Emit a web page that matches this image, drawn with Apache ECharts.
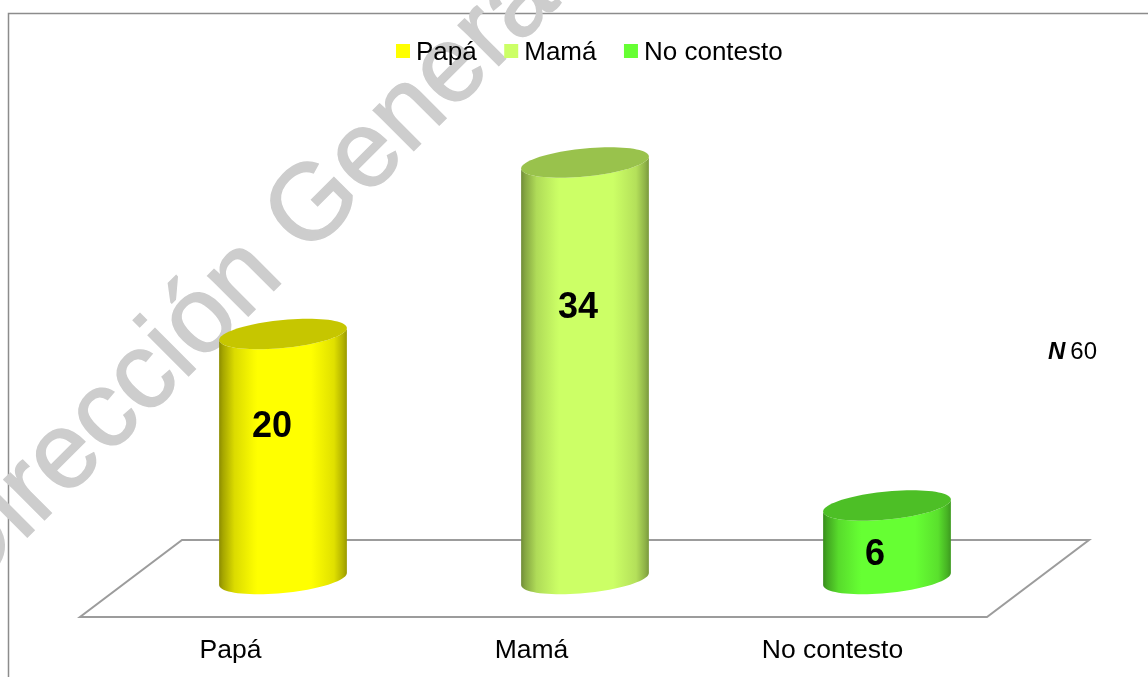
<!DOCTYPE html>
<html><head><meta charset="utf-8">
<style>html,body{margin:0;padding:0;background:#fff}#c{width:1148px;height:677px}</style>
<script src="https://cdn.jsdelivr.net/npm/echarts@6/dist/echarts.min.js"></script>
</head><body><div id="c"></div>
<script>
const categories = ['Papá', 'Mamá', 'No contesto'];
const values = [20, 34, 6];
const sampleTotal = 60;
const baseColors = ['#ffff00', '#ccff66', '#66ff33'];
const capColors = ['#c6c600', '#99c24c', '#4dbf26'];
const shadeStops = [[0, .55], [.03, .65], [.12, .86], [.27, .98], [.3, 1], [.72, 1], [.9, .88], [.97, .7], [1, .6]];
const labelNudges = [[-11, 93], [-7, 146], [-12, 50]];
const watermark = 'Dirección General';

const FONT = '"Liberation Sans", Arial, sans-serif';
const chart = echarts.init(document.getElementById('c'), null, {renderer: 'canvas'});

function shade(hex, f) {
  const n = parseInt(hex.slice(1), 16);
  return 'rgb(' + [(n >> 16) & 255, (n >> 8) & 255, n & 255].map(v => Math.round(v * f)).join(',') + ')';
}

function ellipsePts(cx, cy, a, b, k, from, to, n) {
  const pts = [];
  for (let i = 0; i <= n; i++) {
    const t = from + (to - from) * i / n;
    pts.push([cx + a * Math.cos(t), cy + b * Math.sin(t) - k * Math.cos(t)]);
  }
  return pts;
}

function cylinder(idx) {
  return function (params, api) {
    const base = api.coord([api.value(0), 0]);
    const top = api.coord([api.value(0), api.value(1)]);
    const a = api.size([1, 0])[0] * 0.2115;
    const b = 14, k = 6;
    const body = ellipsePts(top[0], top[1], a, b, k, Math.PI, 0, 40)
      .concat(ellipsePts(base[0], base[1], a, b, k, 0, Math.PI, 40));
    const cap = ellipsePts(top[0], top[1], a, b, k, 0, Math.PI * 2, 80);
    const grad = new echarts.graphic.LinearGradient(0, 0, 1, 0,
      shadeStops.map(s => ({offset: s[0], color: shade(baseColors[idx], s[1])})));
    return {type: 'group', children: [
      {type: 'polygon', shape: {points: body}, style: {fill: grad}},
      {type: 'polygon', shape: {points: cap}, style: {fill: capColors[idx], blend: 'multiply'}},
      {type: 'text', style: {
        text: String(api.value(1)), x: top[0] + labelNudges[idx][0], y: top[1] + labelNudges[idx][1],
        fill: '#000', font: 'bold 36px ' + FONT, align: 'center', verticalAlign: 'middle'
      }}
    ]};
  };
}

function floor(params) {
  const r = params.coordSys;
  const L = r.x, R = r.x + r.width + 4, Y = r.y + r.height;
  const dx = 102, dy = 77;
  return {type: 'polygon', shape: {points: [[L, Y], [R, Y], [R + dx, Y - dy], [L + dx, Y - dy]]},
    style: {fill: 'rgba(255,255,255,0)', stroke: '#9c9c9c', lineWidth: 2}};
}

chart.setOption({
  animation: false,
  backgroundColor: '#ffffff',
  grid: [
    {left: 132, width: 906, top: 89, height: 490},
    {left: 80, width: 903, top: 89, height: 528}
  ],
  xAxis: [
    {type: 'category', gridIndex: 0, data: categories, show: false},
    {type: 'category', gridIndex: 1, data: categories, axisLine: {show: false}, axisTick: {show: false},
     axisLabel: {fontFamily: FONT, fontSize: 26.5, color: '#000', margin: 20}}
  ],
  yAxis: [
    {type: 'value', gridIndex: 0, min: 0, max: 40, show: false},
    {type: 'value', gridIndex: 1, min: 0, max: 40, show: false}
  ],
  legend: {
    left: 391, top: 35, itemWidth: 14, itemHeight: 14, itemGap: 27.5, icon: 'rect',
    data: categories, selectedMode: false,
    formatter: name => '{t|' + name + '}',
    textStyle: {fontFamily: FONT, fontSize: 26, color: '#000', rich: {
      t: {fontFamily: FONT, fontSize: 26, color: '#000', padding: [4, 0, 0, 1]}
    }}
  },
  title: {
    left: 1048, top: 340, padding: 0,
    text: '{n|N} {v|' + sampleTotal + '}',
    textStyle: {rich: {
      n: {fontFamily: FONT, fontSize: 24, fontWeight: 'bold', fontStyle: 'italic', color: '#000'},
      v: {fontFamily: FONT, fontSize: 24, fontWeight: 'normal', color: '#000'}
    }}
  },
  graphic: [
    {type: 'polyline', z: 0, shape: {points: [[8.5, 677], [8.5, 13.5], [1148, 13.5]]},
     style: {stroke: '#8c8c8c', lineWidth: 1.5, fill: 'none'}},
    {type: 'text', z: 0, rotation: Math.PI / 4, x: -54, y: 576,
     style: {text: watermark, font: '108px ' + FONT, fill: '#cdcdcd', stroke: '#cdcdcd', lineWidth: 1.5, verticalAlign: 'middle'}}
  ],
  series: [
    {type: 'custom', silent: true, xAxisIndex: 1, yAxisIndex: 1, z: 1, renderItem: floor, data: [[0, 0]], clip: false}
  ].concat(categories.map((name, i) => ({
    type: 'custom', name, z: 3, xAxisIndex: 0, yAxisIndex: 0, clip: false,
    itemStyle: {color: baseColors[i]},
    renderItem: cylinder(i),
    encode: {x: 0, y: 1},
    data: [[i, values[i]]]
  })))
});
</script></body></html>
